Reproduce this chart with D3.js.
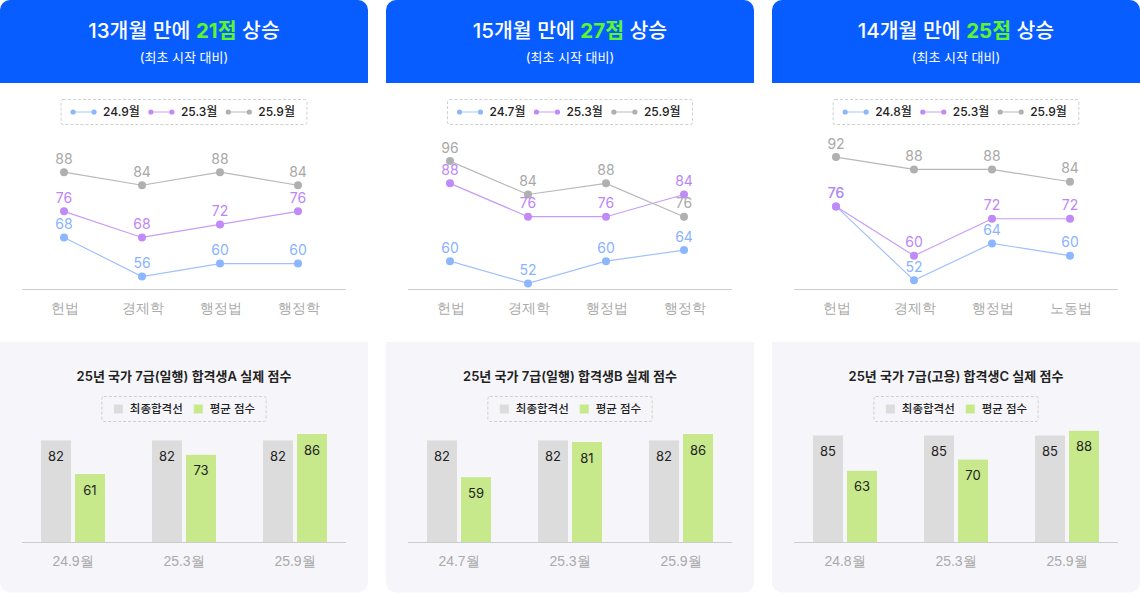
<!DOCTYPE html>
<html><head><meta charset="utf-8">
<script src="https://cdn.jsdelivr.net/npm/d3@7"></script>
<style>
html,body{margin:0;padding:0;background:#fff;}
svg{display:block;font-family:Inter,"Noto Sans CJK KR",sans-serif;}
</style></head><body>
<svg id="c" width="1140" height="593"></svg>
<script>
// ---------- data ----------
const titlePrefix = ["13개월 만에 ", "15개월 만에 ", "14개월 만에 "];
const titleGain = ["21점", "27점", "25점"];
const titleSuffix = " 상승";
const subtitle = "(최초 시작 대비)";
const monthNames = [["24.9월","25.3월","25.9월"],["24.7월","25.3월","25.9월"],["24.8월","25.3월","25.9월"]];
const subjects = [["헌법","경제학","행정법","행정학"],["헌법","경제학","행정법","행정학"],["헌법","경제학","행정법","노동법"]];
// rows: first month, 25.3월, 25.9월 ; columns: subjects
const scoresA = [[68,56,60,60],[76,68,72,76],[88,84,88,84]];
const scoresB = [[60,52,60,64],[88,76,76,84],[96,84,88,76]];
const scoresC = [[76,52,64,60],[76,60,72,72],[92,88,88,84]];
const lineScores = [scoresA, scoresB, scoresC];
const lineDomains = [[52.2,94.8],[50,100],[49.2,94.3]];
const barTitles = ["25년 국가 7급(일행) 합격생A 실제 점수","25년 국가 7급(일행) 합격생B 실제 점수","25년 국가 7급(고용) 합격생C 실제 점수"];
const barLegend = ["최종합격선","평균 점수"];
const cutoffs = [[82,82,82],[82,82,82],[85,85,85]];
const averages = [[61,73,86],[59,81,86],[63,70,88]];
const barDomain = [18.5, 100];

// ---------- style ----------
const seriesDot = ["#8cb6ff","#c08af9","#b0b0b0"];
const seriesLine = ["#9fc2ff","#c79cf7","#b8b8b8"];
const seriesLegendLine = ["#c3d8ff","#dcc0fb","#d0d0d0"];
const seriesText = ["#89b3ff","#bc86fa","#a8a8a8"];
const barColors = ["#dcdcdc","#c7e98b"];

const svg = d3.select("#c");
const panelX = [0, 386, 772];
const PW = 368;

function rpath(x,y,w,h,rt,rb){
  return `M${x},${y+rt} A${rt},${rt} 0 0 1 ${x+rt},${y} H${x+w-rt} A${rt},${rt} 0 0 1 ${x+w},${y+rt} V${y+h-rb} A${rb},${rb} 0 0 1 ${x+w-rb},${y+h} H${x+rb} A${rb},${rb} 0 0 1 ${x},${y+h-rb} Z`;
}

panelX.forEach((px, p) => {
  const g = svg.append("g").attr("transform", `translate(${px},0)`);
  const cx = PW/2;

  // header
  g.append("path").attr("d", rpath(0,0,PW,83,10,0)).attr("fill","#075dff");
  const tt = g.append("text").attr("x",cx).attr("y",31).attr("dy","0.36em")
    .attr("text-anchor","middle").attr("font-size",20.5).attr("font-weight",500).attr("fill","#fff");
  tt.append("tspan").text(titlePrefix[p]);
  tt.append("tspan").attr("fill","#5cf52e").attr("font-weight",700).text(titleGain[p]);
  tt.append("tspan").text(titleSuffix);
  g.append("text").attr("x",cx).attr("y",57).attr("dy","0.36em").attr("text-anchor","middle")
    .attr("font-size",13).attr("fill","#fff").text(subtitle);

  // ---- line legend ----
  const lg = g.append("g");
  let lx = 0;
  monthNames[p].forEach((n,i) => {
    const it = lg.append("g").attr("transform",`translate(${lx},0)`);
    it.append("line").attr("x1",0).attr("x2",21).attr("y1",0).attr("y2",0)
      .attr("stroke",seriesLegendLine[i]).attr("stroke-width",1.5);
    [0,21].forEach(c => it.append("circle").attr("cx",c).attr("cy",0).attr("r",2.6).attr("fill",seriesDot[i]));
    const t = it.append("text").attr("x",30).attr("dy","0.36em").attr("font-size",12)
      .attr("font-weight",500).attr("fill","#222").text(n);
    lx += 30 + t.node().getComputedTextLength() + (i < monthNames[p].length-1 ? 11 : 0);
  });
  const lw = lx + 24;
  g.insert("rect", "g").attr("x",cx - lw/2).attr("y",99.5).attr("width",lw).attr("height",25)
    .attr("rx",2).attr("fill","none").attr("stroke","#cfcfcf").attr("stroke-dasharray","3,2");
  lg.attr("transform",`translate(${cx - lw/2 + 12},112)`);

  // ---- line chart ----
  const x = d3.scalePoint().domain(subjects[p]).range([64, 298]);
  const y = d3.scaleLinear().domain(lineDomains[p]).range([289, 150]);
  g.append("line").attr("x1",22).attr("x2",346).attr("y1",289.5).attr("y2",289.5)
    .attr("stroke","#cccccc").attr("stroke-width",1);
  const xa = g.append("g").attr("transform","translate(0,308)")
    .call(d3.axisBottom(x).tickSize(0).tickPadding(0));
  xa.select(".domain").remove();
  xa.selectAll("text").attr("font-size",14).attr("fill","#aaaaaa").attr("dy","0.36em")
    .attr("font-family",null);

  const line = d3.line().x((d,i) => x(subjects[p][i])).y(d => y(d));
  const scores = lineScores[p];
  scores.forEach((s,i) => {
    g.append("path").attr("d", line(s)).attr("fill","none").attr("stroke",seriesLine[i]).attr("stroke-width",1.2);
  });
  scores.forEach((s,i) => {
    g.selectAll(null).data(s).join("circle")
      .attr("cx",(d,j)=>x(subjects[p][j])).attr("cy",d=>y(d)).attr("r",4).attr("fill",seriesDot[i]);
  });
  scores.forEach((s,i) => {
    g.selectAll(null).data(s).join("text")
      .attr("x",(d,j)=>x(subjects[p][j])).attr("y",d=>y(d)-8.5)
      .attr("text-anchor","middle").attr("font-size",14).attr("fill",seriesText[i]).text(d=>d);
  });

  // ---- bar section ----
  g.append("path").attr("d", rpath(0,342,PW,250.5,0,10)).attr("fill","#f6f6fa");
  g.append("text").attr("x",cx).attr("y",376).attr("dy","0.36em").attr("text-anchor","middle")
    .attr("font-size",13).attr("font-weight",600).attr("fill","#222").text(barTitles[p]);

  const bl = g.append("g");
  let bx = 0;
  barLegend.forEach((n,i) => {
    const it = bl.append("g").attr("transform",`translate(${bx},0)`);
    it.append("rect").attr("x",0).attr("y",-4.5).attr("width",9).attr("height",9).attr("fill",barColors[i]);
    const t = it.append("text").attr("x",16).attr("dy","0.36em").attr("font-size",11.5)
      .attr("font-weight",500).attr("fill","#222").text(n);
    bx += 16 + t.node().getComputedTextLength() + (i < barLegend.length-1 ? 11 : 0);
  });
  const bw = bx + 23;
  g.append("rect").attr("x",cx - bw/2).attr("y",396.5).attr("width",bw).attr("height",25)
    .attr("rx",2).attr("fill","none").attr("stroke","#cfcfcf").attr("stroke-dasharray","3,2");
  bl.attr("transform",`translate(${cx - bw/2 + 12},409)`).raise();

  const x0 = d3.scaleBand().domain(monthNames[p]).range([17.5, 350.5]);
  const x1 = d3.scaleBand().domain(["cut","avg"]).range([-32, 32]).paddingInner(4/34);
  const yb = d3.scaleLinear().domain(barDomain).range([542, 542 - (barDomain[1]-barDomain[0])*1.6]);
  const groups = monthNames[p].map((m,i) => ({m, vals:[{k:"cut",v:cutoffs[p][i]},{k:"avg",v:averages[p][i]}]}));
  const gg = g.selectAll(null).data(groups).join("g")
    .attr("transform", d => `translate(${x0(d.m) + x0.bandwidth()/2},0)`);
  gg.selectAll("rect").data(d => d.vals).join("rect")
    .attr("x", d => x1(d.k)).attr("width", x1.bandwidth())
    .attr("y", d => yb(d.v)).attr("height", d => 542 - yb(d.v))
    .attr("fill", (d,i) => barColors[i]);
  gg.selectAll("text").data(d => d.vals).join("text")
    .attr("x", d => x1(d.k) + x1.bandwidth()/2).attr("y", d => yb(d.v) + 20.5)
    .attr("text-anchor","middle").attr("font-size",13).attr("fill","#222").text(d => d.v);
  g.append("line").attr("x1",22).attr("x2",346).attr("y1",542.5).attr("y2",542.5)
    .attr("stroke","#cccccc").attr("stroke-width",1);
  const xb = g.append("g").attr("transform","translate(0,561)")
    .call(d3.axisBottom(x0).tickSize(0).tickPadding(0));
  xb.select(".domain").remove();
  xb.selectAll("text").attr("font-size",14).attr("fill","#aaaaaa").attr("dy","0.36em")
    .attr("font-family",null);
});
</script>
</body></html>
